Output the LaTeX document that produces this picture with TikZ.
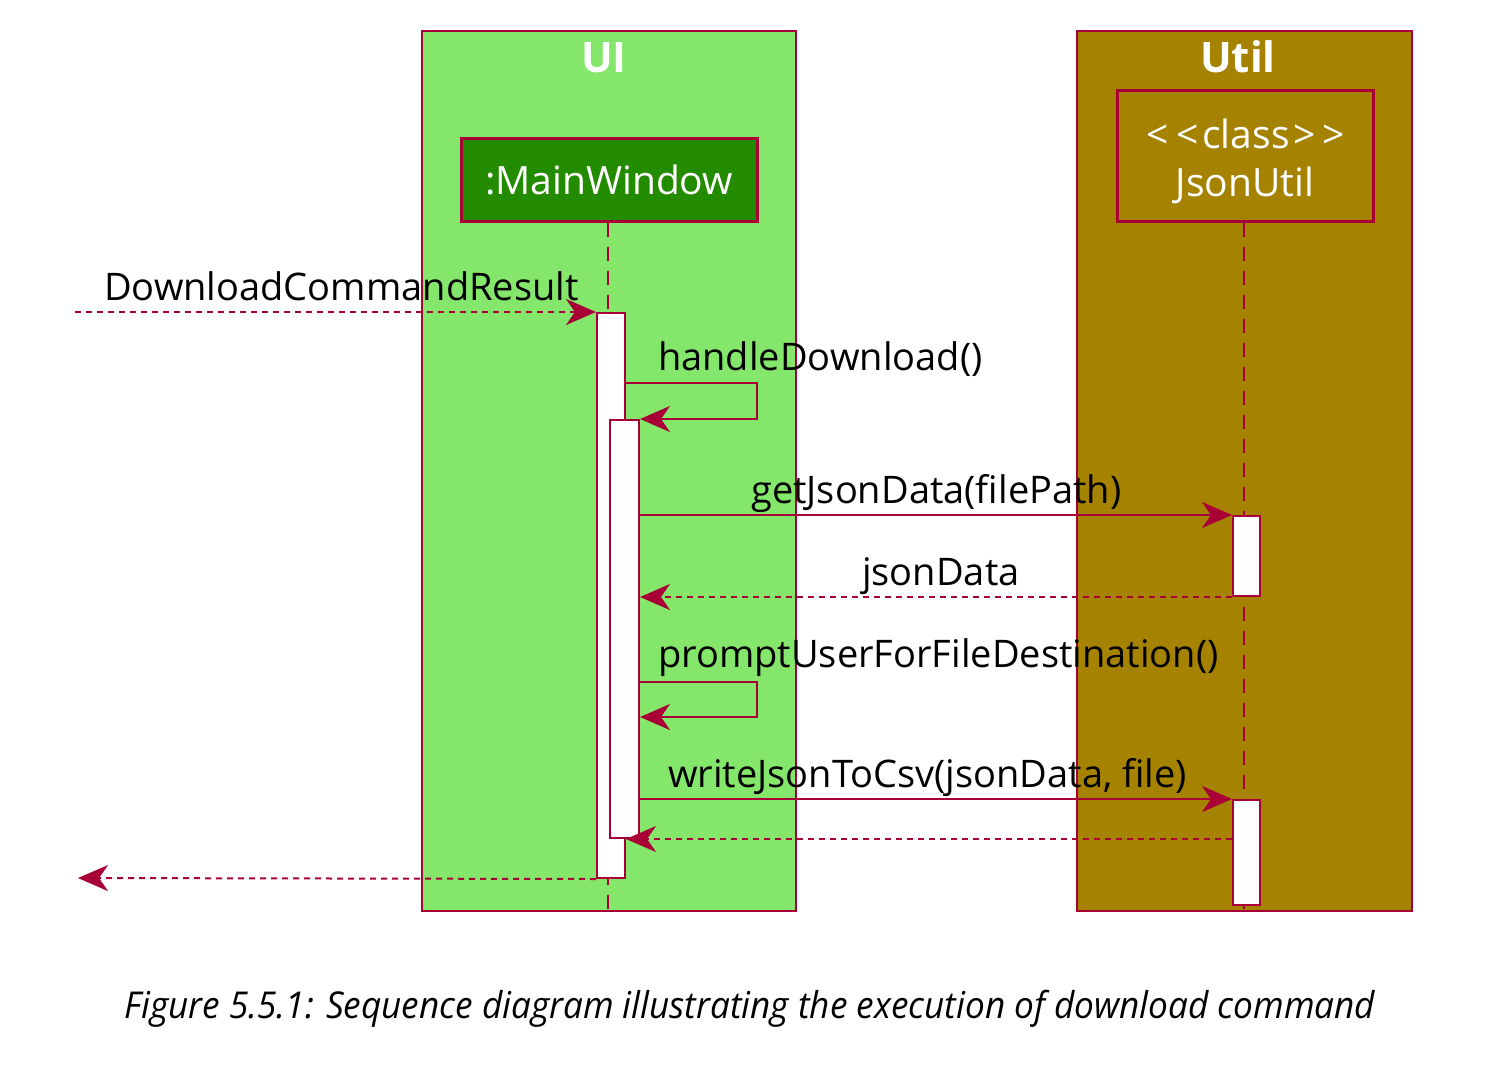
\documentclass[tikz,border=0pt]{standalone}
\usepackage{fontspec}
\setmainfont{Open Sans}
\usetikzlibrary{arrows.meta}
\definecolor{crim}{HTML}{A80036}
\definecolor{uigreen}{HTML}{84E66A}
\definecolor{mwgreen}{HTML}{228B00}
\definecolor{utilfill}{HTML}{A58200}
\tikzset{
  actor/.style={draw=crim, line width=3pt, inner sep=0pt, align=center, text=white,
     font=\fontsize{39}{42}\selectfont},
  actortext/.style={inner sep=0pt, anchor=base, text=white, font=\fontsize{39}{42}\selectfont},
  framebox/.style={draw=crim, line width=2.5pt, minimum height=880pt, inner sep=0pt},
  actbar/.style={draw=crim, line width=2pt, fill=white, inner sep=0pt},
  lifeline/.style={draw=crim, line width=2pt, dash pattern=on 14pt off 10pt},
  msg/.style={draw=crim, line width=2pt, -{Stealth[length=30pt,width=26pt,inset=9pt]}},
  ret/.style={msg, dash pattern=on 6pt off 5pt},
  lbl/.style={inner sep=0pt, anchor=base west, text=black, font=\fontsize{38}{42}\selectfont},
  ttl/.style={inner sep=0pt, anchor=base, text=white, font=\fontsize{42}{46}\selectfont\bfseries},
}
\begin{document}
\begin{tikzpicture}[x=1pt,y=-1pt]
\useasboundingbox[fill=white] (0,0) rectangle (1510,1085);
% frames
\node[framebox, fill=uigreen, minimum width=374pt] (uibox) at (609,471) {};
\node[framebox, fill=utilfill, minimum width=335pt] (utilbox) at (1244.5,471) {};
\node[ttl] (uittl) at (604,72) {UI};
\node[ttl] (utilttl) at (1238,72) {Util};
% participants
\node[actor, fill=mwgreen, minimum width=296pt, minimum height=83pt] (mw) at (609,179.5) {:MainWindow};
\node[actor, fill=utilfill, minimum width=256pt, minimum height=131pt] (ju) at (1245,155.5) {};
\node[actortext] (jut1) at (1246,148) {<\kern7pt<\kern4pt class\kern4pt>\kern7pt>};
\node[actortext] (jut2) at (1245,196) {JsonUtil};
% lifelines
\coordinate (mwend) at (608,915);
\coordinate (juend) at (1244,915);
\draw[lifeline] (mw.south -| mwend) -- (mwend);
\draw[lifeline] (ju.south -| juend) -- (juend);
% activations
\node[actbar, minimum width=28pt, minimum height=565pt] (act1) at (611,595.5) {};
\node[actbar, minimum width=29pt, minimum height=418pt] (act2) at (624.5,629) {};
\node[actbar, minimum width=27pt, minimum height=80pt] (j1) at (1246.5,556) {};
\node[actbar, minimum width=27pt, minimum height=105pt] (j2) at (1246.5,852.5) {};
% messages
\coordinate (start) at (75,312);
\draw[ret] (start) -- (act1.north west);
\node[lbl] (l1) at (104,300) {DownloadCommandResult};
\coordinate (hd) at (757,383);
\draw[msg] (act1.east |- hd) -- (hd) -- (hd |- act2.north) -- (act2.north east);
\node[lbl] (l2) at (658,370) {handleDownload()};
\draw[msg] (act2.east |- j1.north west) -- (j1.north west);
\node[lbl] (l3) at (751,503) {getJsonData(filePath)};
\draw[ret] (j1.south west) -- (act2.east |- j1.south west);
\node[lbl] (l4) at (862,585) {jsonData};
\coordinate (pu) at (757,682);
\coordinate (pu2) at (757,717);
\draw[msg] (act2.east |- pu) -- (pu) -- (pu2) -- (act2.east |- pu2);
\node[lbl] (l5) at (658,667) {promptUserForFileDestination()};
\draw[msg] (act2.east |- j2.north west) -- (j2.north west);
\node[lbl] (l6) at (668,787) {writeJsonToCsv(jsonData, file)};
\draw[ret] (j2.west |- act2.south) -- (act1.east |- act2.south);
\coordinate (out) at (78,878);
\draw[ret] (act1.south west) -- (out);
% caption
\node[inner sep=0pt, anchor=base] (cap) at (750,1018) {\scalebox{0.95}[1]{\fontsize{37}{40}\selectfont\itshape Figure 5.5.1: Sequence diagram illustrating the execution of download command}};
\end{tikzpicture}
\end{document}
